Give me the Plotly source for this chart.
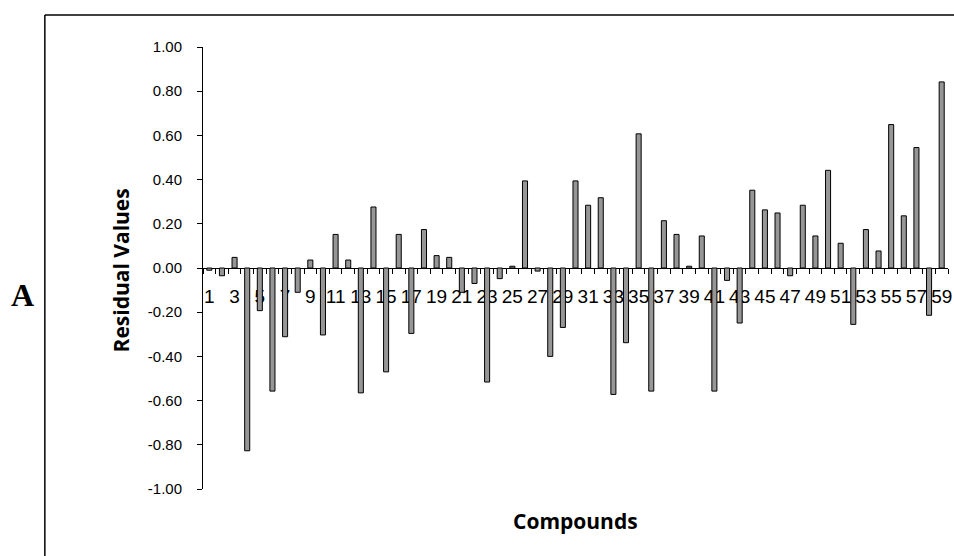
import plotly.graph_objects as go

compounds = list(range(1, 60))
residuals = [
    -0.01, -0.035, 0.048, -0.827, -0.193, -0.557, -0.311, -0.110, 0.036, -0.303,
    0.152, 0.036, -0.565, 0.276, -0.470, 0.152, -0.296, 0.174, 0.056, 0.048,
    -0.110, -0.070, -0.516, -0.048, 0.008, 0.394, -0.014, -0.400, -0.269, 0.394,
    0.284, 0.318, -0.572, -0.338, 0.607, -0.557, 0.214, 0.152, 0.008, 0.145,
    -0.557, -0.056, -0.249, 0.352, 0.263, 0.249, -0.035, 0.284, 0.145, 0.442,
    0.112, -0.255, 0.174, 0.077, 0.649, 0.236, 0.545, -0.214, 0.842,
]
x_tick_vals = list(range(1, 60, 2))
x_tick_text = [str(v) for v in x_tick_vals]
y_tick_vals = [-1.0, -0.8, -0.6, -0.4, -0.2, 0.0, 0.2, 0.4, 0.6, 0.8, 1.0]
y_tick_text = ["-1.00", "-0.80", "-0.60", "-0.40", "-0.20", "0.00",
               "0.20", "0.40", "0.60", "0.80", "1.00"]

W, H = 954, 556
L, R, T, B = 203, 2, 47, 67
pw, ph = W - L - R, H - T - B


def px_x(p):
    return (p - L) / pw


def px_y(p):
    return (H - B - p) / ph


fig = go.Figure()
fig.add_trace(go.Bar(
    x=compounds, y=residuals,
    marker=dict(color="#969696", line=dict(color="black", width=1)),
    showlegend=False,
))

fig.update_layout(
    width=W, height=H,
    margin=dict(l=L, r=R, t=T, b=B),
    paper_bgcolor="white", plot_bgcolor="white",
    bargap=0.6,
    font=dict(family="Liberation Sans, Arial, sans-serif", color="black"),
    xaxis=dict(
        range=[0.5, 59.5],
        anchor="free", position=0.5,
        showgrid=False, zeroline=False,
        showline=True, linecolor="black", linewidth=1,
        tickmode="array", tickvals=x_tick_vals, ticktext=x_tick_text,
        ticks="", tickfont=dict(size=19, color="black"),
        ticklabelstandoff=11,
        ticklabeloverflow="allow",
        minor=dict(ticks="outside", tickmode="linear", tick0=0.5, dtick=1,
                   ticklen=5, tickcolor="black", tickwidth=1),
        layer="below traces",
    ),
    yaxis=dict(
        range=[-1, 1],
        showgrid=False, zeroline=False,
        showline=True, linecolor="black", linewidth=1,
        tickmode="array", tickvals=y_tick_vals, ticktext=y_tick_text,
        ticks="outside", ticklen=5, tickcolor="black",
        tickfont=dict(size=15, color="black"),
        ticklabelstandoff=12,
    ),
    shapes=[
        dict(type="line", xref="paper", yref="paper",
             x0=px_x(44), y0=px_y(15), x1=px_x(960), y1=px_y(15),
             line=dict(color="black", width=1.5)),
        dict(type="line", xref="paper", yref="paper",
             x0=px_x(44), y0=px_y(15), x1=px_x(44), y1=px_y(570),
             line=dict(color="black", width=1.5)),
    ],
    annotations=[
        dict(text="<b>Residual Values</b>", xref="paper", yref="paper",
             x=px_x(121), y=px_y(270), textangle=-90, showarrow=False,
             xanchor="center", yanchor="middle",
             font=dict(family="Open Sans", size=21, color="black")),
        dict(text="<b>Compounds</b>", xref="paper", yref="paper",
             x=px_x(577), y=px_y(521), showarrow=False,
             xanchor="center", yanchor="middle",
             font=dict(family="Open Sans", size=21, color="black")),
        dict(text="<b>A</b>", xref="paper", yref="paper",
             x=px_x(22), y=px_y(295), showarrow=False,
             xanchor="center", yanchor="middle",
             font=dict(family="Liberation Serif", size=32, color="black")),
    ],
)

fig.write_html(
    "out.html",
    config={"displayModeBar": False},
    post_script="document.body.style.margin='0';document.body.style.overflow='hidden';",
)
